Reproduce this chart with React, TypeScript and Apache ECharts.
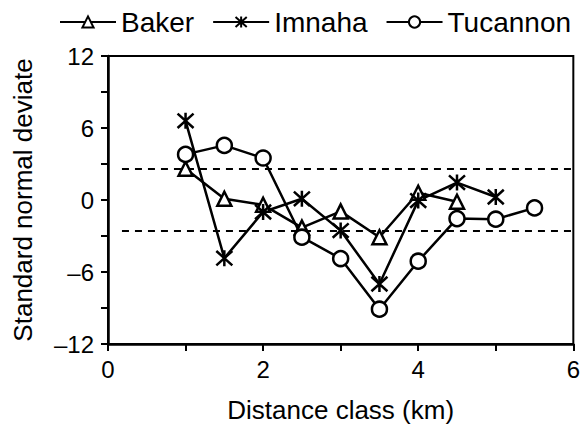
import React, { useEffect, useRef } from "react";
import * as echarts from "echarts";

const distances = [1, 1.5, 2, 2.5, 3, 3.5, 4, 4.5, 5, 5.5];
const bakerValues = [2.6, 0.1, -0.4, -2.3, -0.95, -3.1, 0.6, -0.15];
const imnahaValues = [6.6, -4.85, -1.0, 0.1, -2.55, -7.0, -0.05, 1.45, 0.25];
const tucannonValues = [3.8, 4.55, 3.5, -3.1, -4.88, -9.1, -5.1, -1.55, -1.6, -0.66];
const criticalValue = 2.58;
const dashStart = 0.18;
const yTicks = [-12, -6, 0, 6, 12];
const xTicks = [0, 2, 4, 6];

const pair = (vals: number[]) => vals.map((v, i) => [distances[i], v]);
const ASTERISK = "path://M10 0 L10 20 M1 1 L19 19 M19 1 L1 19";
const FONT = "'Liberation Sans', Arial, Helvetica, sans-serif";

export default function App() {
  const ref = useRef<HTMLDivElement>(null);
  useEffect(() => {
    const chart = echarts.init(ref.current!, null, { renderer: "svg" });
    const lineStyle = { color: "#000", width: 2.5 };
    const markerStyle = { color: "#fff", borderColor: "#000", borderWidth: 2.5 };
    chart.setOption({
      animation: false,
      textStyle: { fontFamily: FONT, color: "#000" },
      legend: {
        data: ["Baker", "Imnaha", "Tucannon"],
        left: 54,
        top: 3,
        itemWidth: 56,
        itemHeight: 14,
        itemGap: 18,
        textStyle: { fontSize: 28, color: "#000", fontFamily: FONT },
      },
      grid: {
        left: 108,
        right: 8,
        top: 56,
        bottom: 85,
        show: true,
        borderColor: "#000",
        borderWidth: 2,
        backgroundColor: "transparent",
      },
      xAxis: {
        type: "value",
        min: 0,
        max: 6,
        interval: 1,
        name: "Distance class (km)",
        nameLocation: "middle",
        nameGap: 53,
        nameTextStyle: { fontSize: 26, color: "#000", fontFamily: FONT },
        axisLine: { show: true, onZero: false, lineStyle: { color: "#000", width: 2.5 } },
        axisTick: { show: true, length: 7, lineStyle: { color: "#000", width: 2 } },
        axisLabel: {
          fontSize: 24,
          color: "#000",
          margin: 13,
          fontFamily: FONT,
          formatter: (v: number) => (xTicks.includes(v) ? String(v) : ""),
        },
        splitLine: { show: false },
      },
      yAxis: {
        type: "value",
        min: -12,
        max: 12,
        interval: 3,
        name: "Standard normal deviate",
        nameLocation: "middle",
        nameGap: 72,
        nameTextStyle: { fontSize: 26, color: "#000", fontFamily: FONT },
        axisLine: { show: true, onZero: false, lineStyle: { color: "#000", width: 2.5 } },
        axisTick: { show: true, length: 7, lineStyle: { color: "#000", width: 2 } },
        axisLabel: {
          fontSize: 24,
          color: "#000",
          margin: 14,
          fontFamily: FONT,
          formatter: (v: number) =>
            yTicks.includes(v) ? (v < 0 ? "\u2013" + Math.abs(v) : String(v)) : "",
        },
        splitLine: { show: false },
      },
      series: [
        {
          name: "upper",
          type: "line",
          data: [[dashStart, criticalValue], [6, criticalValue]],
          symbol: "none",
          silent: true,
          lineStyle: { color: "#000", width: 2, type: [7, 6] },
          z: 1,
        },
        {
          name: "lower",
          type: "line",
          data: [[dashStart, -criticalValue], [6, -criticalValue]],
          symbol: "none",
          silent: true,
          lineStyle: { color: "#000", width: 2, type: [7, 6] },
          z: 1,
        },
        {
          name: "Baker",
          type: "line",
          data: pair(bakerValues),
          symbol: "triangle",
          symbolSize: 14,
          lineStyle,
          itemStyle: markerStyle,
          z: 3,
        },
        {
          name: "Imnaha",
          type: "line",
          data: pair(imnahaValues),
          symbol: ASTERISK,
          symbolSize: 16,
          lineStyle,
          itemStyle: { color: "#000", borderColor: "#000", borderWidth: 2.5 },
          z: 3,
        },
        {
          name: "Tucannon",
          type: "line",
          data: pair(tucannonValues),
          symbol: "circle",
          symbolSize: 15,
          lineStyle,
          itemStyle: markerStyle,
          z: 3,
        },
      ],
    });
    return () => chart.dispose();
  }, []);
  return <div ref={ref} style={{ width: 583, height: 429, position: "absolute", left: 0, top: 0 }} />;
}
